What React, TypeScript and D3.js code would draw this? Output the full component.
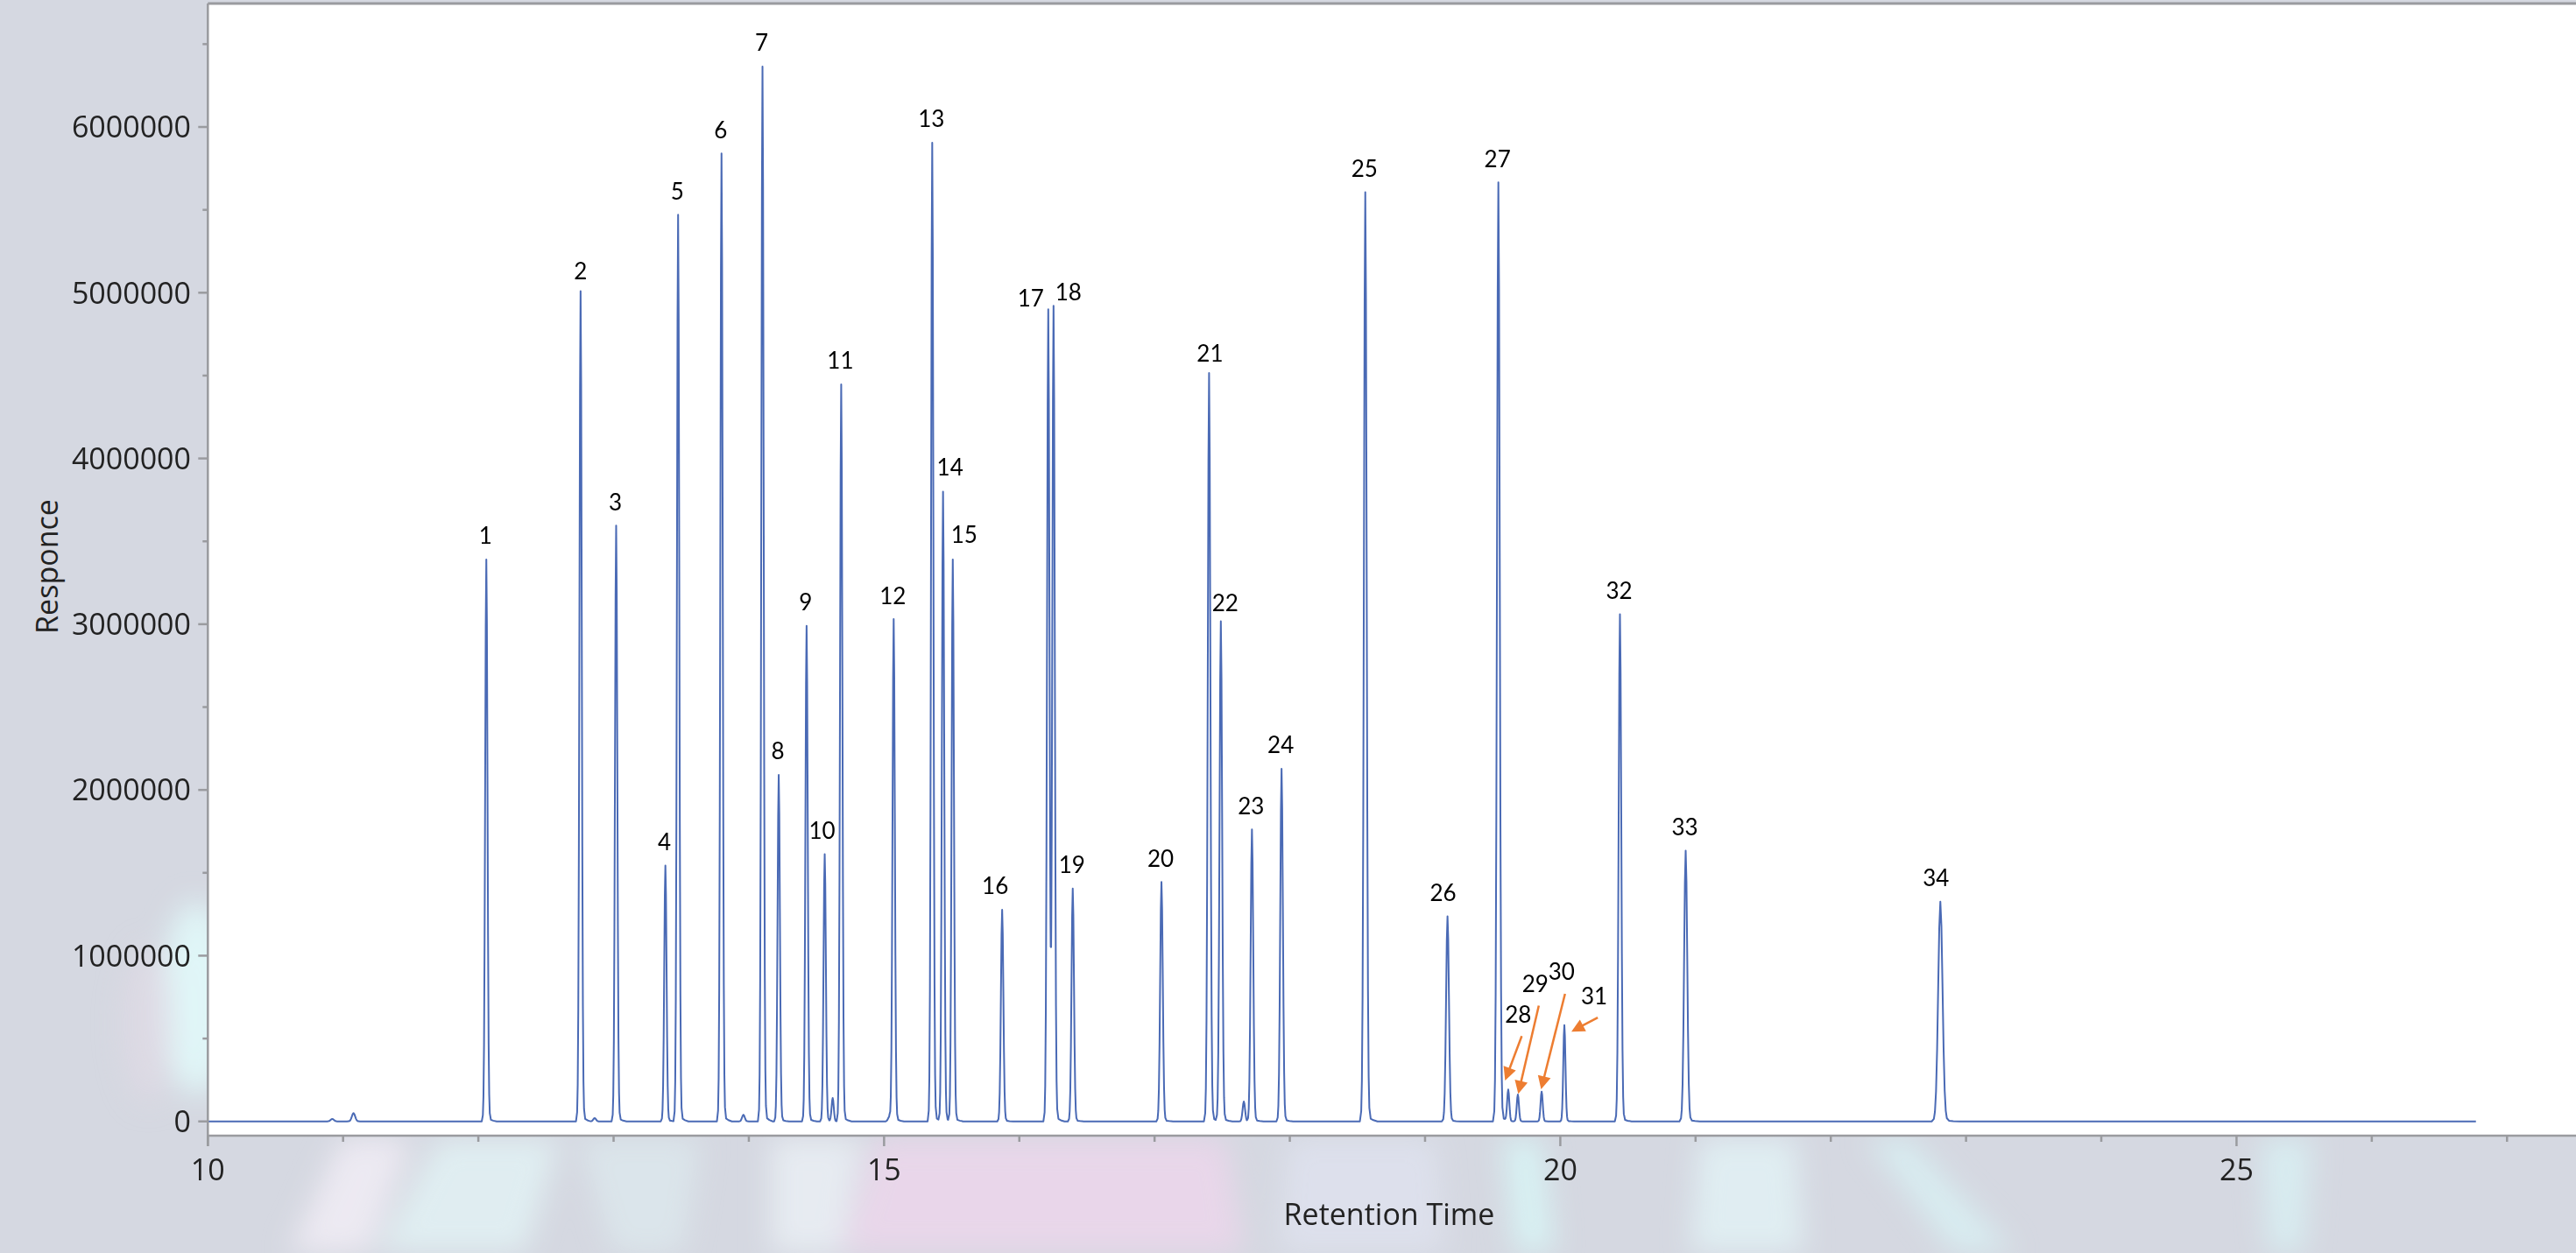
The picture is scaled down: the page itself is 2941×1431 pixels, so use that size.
import React from "react";
import * as d3 from "d3";

// ---- Data ----
const peakNumbers = [1, 2, 3, 4, 5, 6, 7, 8, 9, 10, 11, 12, 13, 14, 15, 16, 17, 18, 19, 20, 21, 22, 23, 24, 25, 26, 27, 28, 29, 30, 31, 32, 33, 34];
const peakTimes = [12.059, 12.756, 13.019, 13.383, 13.477, 13.798, 14.101, 14.221, 14.427, 14.561, 14.683, 15.071, 15.356, 15.436, 15.508, 15.873, 16.214, 16.253, 16.395, 17.051, 17.403, 17.490, 17.720, 17.939, 18.558, 19.166, 19.542, 19.615, 19.686, 19.862, 20.030, 20.441, 20.927, 22.810];
const peakHeights = [3390000, 5010000, 3595000, 1544000, 5470000, 5840000, 6365000, 2090000, 2990000, 1613000, 4447000, 3030000, 5905000, 3800000, 3390000, 1277000, 4900000, 4908000, 1405000, 1445000, 4515000, 3018000, 1762000, 2128000, 5606000, 1237000, 5666000, 188000, 162000, 180000, 581000, 3060000, 1633000, 1326000];
const peakWidths = [0.0085, 0.0085, 0.0085, 0.0085, 0.0085, 0.0085, 0.0085, 0.0085, 0.0085, 0.0085, 0.0085, 0.0085, 0.0085, 0.0085, 0.0085, 0.009, 0.009, 0.009, 0.009, 0.0095, 0.0095, 0.0095, 0.0095, 0.0095, 0.010, 0.0105, 0.010, 0.008, 0.008, 0.008, 0.008, 0.0095, 0.0115, 0.016];

const minorPeakTimes = [10.92, 11.077, 12.86, 13.96, 14.62, 15.04, 17.66];
const minorPeakHeights = [15000, 50000, 20000, 40000, 140000, 30000, 120000];
const minorPeakWidths = [0.012, 0.012, 0.01, 0.01, 0.008, 0.01, 0.009];

const traceStart = 10;
const traceEnd = 26.77;

const yTickValues = [0, 1000000, 2000000, 3000000, 4000000, 5000000, 6000000];
const yMinorTickValues = [500000, 1500000, 2500000, 3500000, 4500000, 5500000, 6500000];
const xTickValues = [10, 15, 20, 25];
const xMinorTickValues = [11, 12, 13, 14, 16, 17, 18, 19, 21, 22, 23, 24, 26, 27];

const calloutPeaks = [28, 29, 30, 31];
const calloutLabelTimes = [19.689, 19.815, 20.009, 20.250];
const calloutLabelValues = [647000, 832000, 902000, 758000];
const arrowStartTimes = [19.715, 19.841, 20.035, 20.277];
const arrowStartValues = [515000, 699000, 770000, 627000];
const arrowEndTimes = [19.592, 19.689, 19.858, 20.082];
const arrowEndValues = [247000, 166000, 194000, 542000];

const xTitle = "Retention Time";
const yTitle = "Responce";

// label layout tweaks (pixels): [dx, distance of label centre above apex]
const labelOffsets: Record<number, [number, number]> = {
  2: [0, 23],
  17: [-20, 13],
  18: [17, 18],
  21: [1, 22],
  22: [5, 21],
  14: [8, 28],
  15: [13, 28],
  10: [-3, 27],
  16: [-8, 27],
  26: [-5, 27],
  34: [-5, 27],
};

// peak rendering profile (offsets in widths)
const PROFILE_Z = [-4, -3, -2.5, -2, -1.5, -1, -0.5, 0, 0.5, 1, 1.5, 2, 2.5, 3, 4, 6, 9];
function profileValue(z: number) {
  const g = Math.exp((-z * z) / 2);
  const tail = z > 0 ? 0.01 * Math.min(1, z) * Math.exp(-z / 3) : 0;
  return g + tail;
}
const PROFILE_W = PROFILE_Z.map((z, i) => (i === PROFILE_Z.length - 1 || i === 0 ? 0 : profileValue(z)));
function profileAt(z: number) {
  if (z <= PROFILE_Z[0] || z >= PROFILE_Z[PROFILE_Z.length - 1]) return 0;
  for (let i = 0; i < PROFILE_Z.length - 1; i++) {
    if (z >= PROFILE_Z[i] && z <= PROFILE_Z[i + 1]) {
      const f = (z - PROFILE_Z[i]) / (PROFILE_Z[i + 1] - PROFILE_Z[i]);
      return PROFILE_W[i] + f * (PROFILE_W[i + 1] - PROFILE_W[i]);
    }
  }
  return 0;
}

function buildTrace() {
  const peaks = peakTimes
    .map((t, i) => ({ t, h: peakHeights[i], s: peakWidths[i] }))
    .concat(minorPeakTimes.map((t, i) => ({ t, h: minorPeakHeights[i], s: minorPeakWidths[i] })));
  const verts: number[] = [traceStart, traceEnd];
  peaks.forEach((p) => PROFILE_Z.forEach((z) => verts.push(p.t + z * p.s)));
  const ts = Array.from(new Set(verts.filter((t) => t >= traceStart && t <= traceEnd))).sort((a, b) => a - b);
  return ts.map((t) => {
    let v = 0;
    peaks.forEach((p) => {
      v += p.h * profileAt((t - p.t) / p.s);
    });
    return [t, v] as [number, number];
  });
}

export default function App() {
  const W = 2941;
  const H = 1431;
  const plotLeft = 237.3;
  const plotRight = 2941;
  const plotTop = 4;
  const plotBottom = 1297;

  const x = d3.scaleLinear().domain([10, 27.51]).range([plotLeft, plotRight]);
  const y = d3.scaleLinear().domain([-86000, 6745000]).range([plotBottom, plotTop]);

  const trace = buildTrace();
  const line = d3
    .line<[number, number]>()
    .x((d) => x(d[0]))
    .y((d) => y(d[1]));

  const axisColor = "#9a9b9f";
  const traceColor = "#4a6ab5";
  const arrowColor = "#ed7d31";

  const arrowHead = (x1: number, y1: number, x2: number, y2: number) => {
    const a = Math.atan2(y2 - y1, x2 - x1);
    const len = 15;
    const hw = 7.5;
    const bx = x2 - len * Math.cos(a);
    const by = y2 - len * Math.sin(a);
    const px = -Math.sin(a);
    const py = Math.cos(a);
    return `${x2},${y2} ${bx + hw * px},${by + hw * py} ${bx - hw * px},${by - hw * py}`;
  };

  return (
    <div style={{ position: "absolute", left: 0, top: 0, width: W, height: H, overflow: "hidden" }}>
      <svg width={W} height={H} style={{ display: "block" }} fontFamily="'Open Sans', 'Noto Sans', sans-serif">
        <defs>
          <filter id="soft" x="-50%" y="-50%" width="200%" height="200%">
            <feGaussianBlur stdDeviation="16" />
          </filter>
          <clipPath id="plotClip">
            <rect x={plotLeft} y={plotTop} width={plotRight - plotLeft} height={plotBottom - plotTop} />
          </clipPath>
        </defs>
        <rect width={W} height={H} fill="#d5d8e1" />
        {/* faint background artwork */}
        <g filter="url(#soft)">
          <ellipse cx={225} cy={1140} rx={40} ry={110} fill="#e2fbfc" opacity={0.85} />
          <ellipse cx={170} cy={1170} rx={30} ry={90} fill="#e3dbe6" opacity={0.6} />
          <path d="M330,1431 L390,1300 L470,1300 L420,1431 Z" fill="#f3eef6" opacity={0.8} />
          <path d="M430,1431 L500,1300 L640,1300 L600,1431 Z" fill="#e4f6f8" opacity={0.7} />
          <path d="M660,1300 L800,1300 L780,1431 L700,1431 Z" fill="#e0eef2" opacity={0.6} />
          <path d="M880,1300 L985,1300 L960,1431 L880,1431 Z" fill="#eef4f8" opacity={0.7} />
          <path d="M1000,1300 L1400,1300 L1420,1431 L960,1431 Z" fill="#efd6ec" opacity={0.75} />
          <path d="M1470,1300 L1640,1300 L1650,1431 L1460,1431 Z" fill="#e3e6f3" opacity={0.6} />
          <path d="M1715,1300 L1760,1300 L1775,1431 L1730,1431 Z" fill="#d8f7f7" opacity={0.8} />
          <path d="M1940,1300 L2050,1300 L2060,1431 L1930,1431 Z" fill="#e4f6f9" opacity={0.7} />
          <path d="M2130,1300 L2180,1300 L2300,1431 L2230,1431 Z" fill="#d9f5f6" opacity={0.7} />
          <path d="M2580,1300 L2640,1300 L2630,1431 L2590,1431 Z" fill="#d8f5f6" opacity={0.7} />
        </g>
        <rect x={plotLeft} y={plotTop} width={plotRight - plotLeft} height={plotBottom - plotTop} fill="#ffffff" />

        {/* trace */}
        <g clipPath="url(#plotClip)">
          <path d={line(trace) || ""} fill="none" stroke={traceColor} strokeWidth={2} strokeLinejoin="round" />
        </g>

        {/* frame */}
        <line x1={plotLeft} x2={plotRight} y1={4} y2={4} stroke={axisColor} strokeWidth={3} />
        <line x1={plotLeft} x2={plotLeft} y1={plotTop} y2={plotBottom + 12} stroke={axisColor} strokeWidth={2.5} />
        <line x1={plotLeft} x2={plotRight} y1={plotBottom} y2={plotBottom} stroke={axisColor} strokeWidth={2.5} />

        {/* y axis */}
        {yTickValues.map((v) => (
          <g key={"yt" + v}>
            <line x1={plotLeft - 11} x2={plotLeft} y1={y(v)} y2={y(v)} stroke={axisColor} strokeWidth={2.5} />
            <text x={218} y={y(v)} dy="0.36em" textAnchor="end" fontSize={34} fill="#222">
              {d3.format("d")(v)}
            </text>
          </g>
        ))}
        {yMinorTickValues.map((v) => (
          <line key={"ym" + v} x1={plotLeft - 6} x2={plotLeft} y1={y(v)} y2={y(v)} stroke={axisColor} strokeWidth={2.5} />
        ))}

        {/* x axis */}
        {xTickValues.map((v) => (
          <g key={"xt" + v}>
            <line x1={x(v)} x2={x(v)} y1={plotBottom} y2={plotBottom + 12} stroke={axisColor} strokeWidth={2.5} />
            <text x={x(v)} y={1348} textAnchor="middle" fontSize={34} fill="#222">
              {v}
            </text>
          </g>
        ))}
        {xMinorTickValues.map((v) => (
          <line key={"xm" + v} x1={x(v)} x2={x(v)} y1={plotBottom} y2={plotBottom + 7} stroke={axisColor} strokeWidth={2.5} />
        ))}

        <text x={1586} y={1399} textAnchor="middle" fontSize={34} fill="#222">
          {xTitle}
        </text>
        <text transform="translate(66,647) rotate(-90)" textAnchor="middle" fontSize={34} fill="#222">
          {yTitle}
        </text>

        {/* peak labels */}
        <g fontFamily="Lato, 'Open Sans', sans-serif" fontSize={26} fill="#000">
          {peakNumbers.map((n, i) => {
            if (calloutPeaks.includes(n)) return null;
            const off = labelOffsets[n] || [-1, 27];
            return (
              <text key={"pl" + n} x={x(peakTimes[i]) + off[0]} y={y(peakHeights[i]) - off[1]} dy="0.36em" textAnchor="middle">
                {n}
              </text>
            );
          })}
          {calloutPeaks.map((n, i) => (
            <text key={"cl" + n} x={x(calloutLabelTimes[i])} y={y(calloutLabelValues[i])} dy="0.36em" textAnchor="middle">
              {n}
            </text>
          ))}
        </g>

        {/* callout arrows */}
        {calloutPeaks.map((n, i) => {
          const x1 = x(arrowStartTimes[i]);
          const y1 = y(arrowStartValues[i]);
          const x2 = x(arrowEndTimes[i]);
          const y2 = y(arrowEndValues[i]);
          const a = Math.atan2(y2 - y1, x2 - x1);
          return (
            <g key={"ar" + n}>
              <line x1={x1} y1={y1} x2={x2 - 12 * Math.cos(a)} y2={y2 - 12 * Math.sin(a)} stroke={arrowColor} strokeWidth={2.5} />
              <polygon points={arrowHead(x1, y1, x2, y2)} fill={arrowColor} />
            </g>
          );
        })}
      </svg>
    </div>
  );
}
